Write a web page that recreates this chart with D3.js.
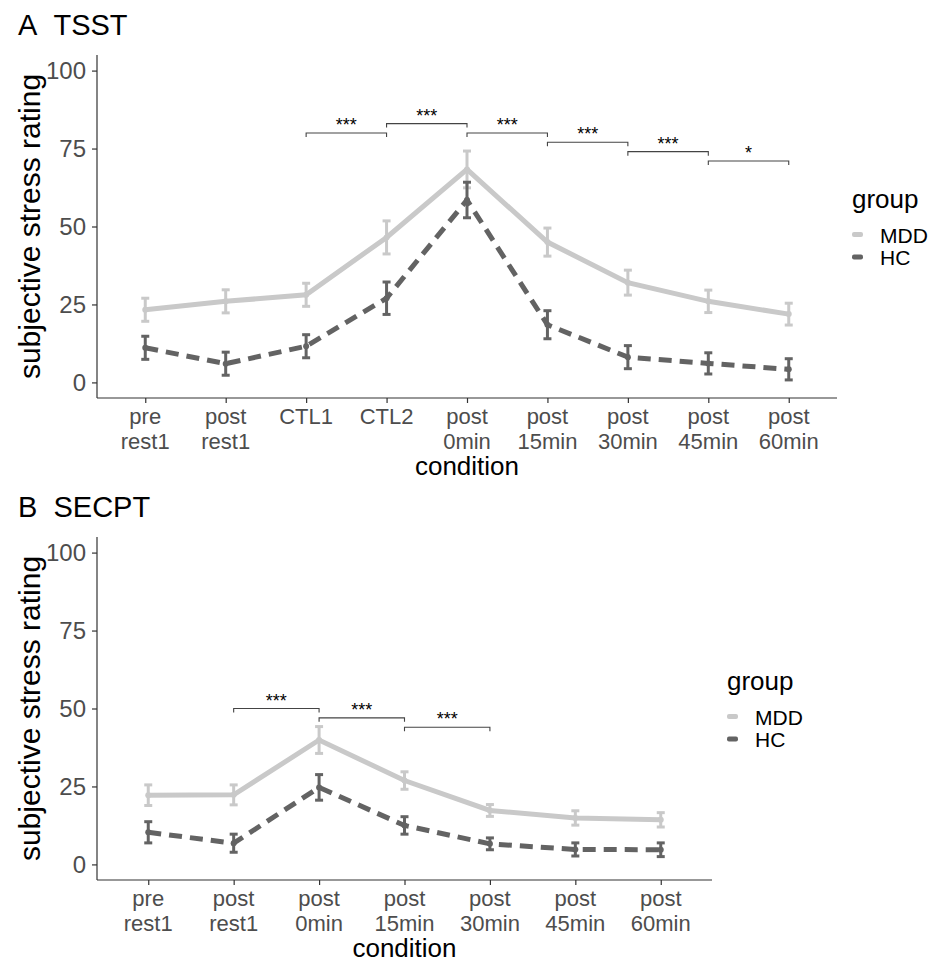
<!DOCTYPE html>
<html>
<head>
<meta charset="utf-8">
<script src="https://cdn.jsdelivr.net/npm/d3@7"></script>
<style>
  body { margin: 0; background: #fff; }
  svg { display: block; font-family: "Liberation Sans", Arial, sans-serif; }
</style>
</head>
<body>
<div id="chart"></div>
<script>
// panel A: TSST
const catsA = ["pre\nrest1", "post\nrest1", "CTL1", "CTL2", "post\n0min", "post\n15min", "post\n30min", "post\n45min", "post\n60min"];
const mddA = [23.3, 26.0, 28.1, 46.5, 68.3, 45.0, 32.0, 26.0, 21.9];
const mddSeA = [3.7, 3.7, 3.7, 5.3, 5.9, 4.5, 4.0, 3.6, 3.5];
const hcA = [11.1, 6.0, 11.6, 27.0, 58.5, 18.5, 8.1, 6.1, 4.2];
const hcSeA = [3.7, 3.7, 3.7, 5.2, 5.7, 4.5, 3.7, 3.4, 3.4];
const sigA = [
  [2, 3, 80, "***"], [3, 4, 83, "***"], [4, 5, 80, "***"],
  [5, 6, 77, "***"], [6, 7, 74, "***"], [7, 8, 71, "*"]
];

// panel B: SECPT
const catsB = ["pre\nrest1", "post\nrest1", "post\n0min", "post\n15min", "post\n30min", "post\n45min", "post\n60min"];
const mddB = [22.2, 22.3, 39.9, 26.9, 17.3, 14.9, 14.3];
const mddSeB = [3.3, 3.2, 4.3, 2.8, 1.9, 2.3, 2.3];
const hcB = [10.3, 6.8, 24.7, 12.5, 6.6, 4.8, 4.7];
const hcSeB = [3.4, 2.9, 4.1, 2.8, 1.9, 2.1, 2.2];
const sigB = [[1, 2, 50, "***"], [2, 3, 47, "***"], [3, 4, 44, "***"]];

const yTicks = [0, 25, 50, 75, 100];
const groups = ["MDD", "HC"];
const colMDD = "#c9c9c9";
const colHC = "#636363";

const svg = d3.select("#chart").append("svg")
  .attr("width", 933)
  .attr("height", 962);

function panel(opts) {
  const { letter, title, cats, mdd, mddSe, hc, hcSe, sig, top, left, right, bottom, legendX, legendY } = opts;
  const g = svg.append("g");

  const x = d3.scalePoint()
    .domain(cats)
    .range([left, right])
    .padding(0.6);

  const y = d3.scaleLinear()
    .domain([-5, 105])
    .range([bottom, top]);

  // title
  g.append("text")
    .attr("x", 18).attr("y", top - 20)
    .attr("font-size", 29).attr("fill", "#000")
    .text(letter + "\u00a0\u00a0" + title);

  // axes
  const yAxis = g.append("g")
    .attr("transform", "translate(" + left + ",0)")
    .call(d3.axisLeft(y).tickValues(yTicks).tickSize(5).tickPadding(6));
  yAxis.select(".domain").attr("d", "M0," + top + "V" + bottom).attr("stroke", "#333").attr("stroke-width", 1.2);
  yAxis.selectAll(".tick line").attr("stroke", "#333").attr("stroke-width", 1.2);
  yAxis.selectAll(".tick text")
    .attr("font-size", 24).attr("fill", "#4d4d4d")
    .attr("font-family", "Liberation Sans, Arial, sans-serif");

  const xAxis = g.append("g")
    .attr("transform", "translate(0," + bottom + ")")
    .call(d3.axisBottom(x).tickSize(5).tickFormat(""));
  xAxis.select(".domain").attr("d", "M" + left + ",0H" + right).attr("stroke", "#333").attr("stroke-width", 1.2);
  xAxis.selectAll(".tick line").attr("stroke", "#333").attr("stroke-width", 1.2);

  cats.forEach(c => {
    const lines = c.split("\n");
    const t = g.append("text")
      .attr("text-anchor", "middle")
      .attr("font-size", 22).attr("fill", "#4d4d4d");
    lines.forEach((l, i) => {
      t.append("tspan").attr("x", x(c)).attr("y", bottom + 26 + i * 24.5).text(l);
    });
  });

  g.append("text")
    .attr("x", (left + right) / 2).attr("y", bottom + 77)
    .attr("text-anchor", "middle").attr("font-size", 26).attr("fill", "#000")
    .text("condition");

  g.append("text")
    .attr("transform", "translate(40," + (top + bottom) / 2 + ") rotate(-90)")
    .attr("text-anchor", "middle").attr("font-size", 30).attr("fill", "#000")
    .text("subjective stress rating");

  // series
  const series = [
    { name: "MDD", vals: mdd, se: mddSe, color: colMDD, dash: null },
    { name: "HC", vals: hc, se: hcSe, color: colHC, dash: "13 8" }
  ];

  const line = d3.line()
    .x((d, i) => x(cats[i]))
    .y(d => y(d));

  series.forEach(s => {
    g.append("path")
      .datum(s.vals)
      .attr("fill", "none")
      .attr("stroke", s.color)
      .attr("stroke-width", 5)
      .attr("stroke-dasharray", s.dash)
      .attr("d", line);

    const eb = g.append("g").attr("stroke", s.color).attr("stroke-width", 3);
    s.vals.forEach((v, i) => {
      const cx = x(cats[i]);
      const y0 = y(v - s.se[i]), y1 = y(v + s.se[i]);
      eb.append("line").attr("x1", cx).attr("x2", cx).attr("y1", y0).attr("y2", y1);
      eb.append("line").attr("x1", cx - 4).attr("x2", cx + 4).attr("y1", y0).attr("y2", y0);
      eb.append("line").attr("x1", cx - 4).attr("x2", cx + 4).attr("y1", y1).attr("y2", y1);
    });

    g.append("g").selectAll("circle")
      .data(s.vals)
      .join("circle")
      .attr("cx", (d, i) => x(cats[i]))
      .attr("cy", d => y(d))
      .attr("r", 3)
      .attr("fill", s.color);
  });

  // significance brackets
  sig.forEach(([a, b, v, lab]) => {
    const x1 = x(cats[a]), x2 = x(cats[b]), yy = y(v);
    g.append("path")
      .attr("d", "M" + x1 + "," + (yy + 4) + "V" + yy + "H" + x2 + "V" + (yy + 4))
      .attr("fill", "none").attr("stroke", "#444").attr("stroke-width", 1.1);
    g.append("text")
      .attr("x", (x1 + x2) / 2).attr("y", yy - 2)
      .attr("text-anchor", "middle").attr("font-size", 18).attr("fill", "#000")
      .text(lab);
  });

  // legend
  const lg = g.append("g").attr("transform", "translate(" + legendX + "," + legendY + ")");
  lg.append("text").attr("x", 0).attr("y", 0)
    .attr("font-size", 26).attr("fill", "#000").text("group");
  series.forEach((s, i) => {
    lg.append("rect")
      .attr("x", 0).attr("y", 24 + i * 22.5)
      .attr("width", 11).attr("height", 5).attr("rx", 2)
      .attr("fill", s.color);
    lg.append("text")
      .attr("x", 28).attr("y", 35 + i * 22)
      .attr("font-size", 21).attr("fill", "#000").text(groups[i]);
  });
}

panel({
  letter: "A", title: "TSST", cats: catsA,
  mdd: mddA, mddSe: mddSeA, hc: hcA, hcSe: hcSeA, sig: sigA,
  top: 55, bottom: 398, left: 97, right: 837,
  legendX: 852, legendY: 208
});

panel({
  letter: "B", title: "SECPT", cats: catsB,
  mdd: mddB, mddSe: mddSeB, hc: hcB, hcSe: hcSeB, sig: sigB,
  top: 537, bottom: 880, left: 97, right: 712,
  legendX: 727, legendY: 690
});
</script>
</body>
</html>
